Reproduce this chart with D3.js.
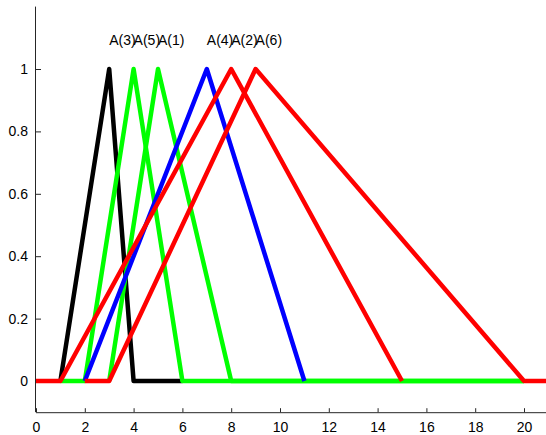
<!DOCTYPE html>
<html>
<head>
<meta charset="utf-8">
<script src="https://cdn.jsdelivr.net/npm/d3@7"></script>
<style>
  body { margin: 0; background: #fff; }
  svg { display: block; font-family: "Liberation Sans", Arial, sans-serif; }
  .axis path, .axis line { stroke: #262626; }
  .axis text { font-size: 14px; fill: #000; }
</style>
</head>
<body>
<div id="chart"></div>
<script>
// triangular membership functions, each with the flat zero parts as plotted
const names = ["A(3)", "A(5)", "A(1)", "A(4)", "A(2)", "A(6)"];
const colors = ["#000000", "#00ff00", "#00ff00", "#0000ff", "#ff0000", "#ff0000"];
const peaks = [3, 4, 5, 7, 8, 9];
const seriesX = [
  [1, 3, 4, 6],
  [1, 2, 4, 6, 20],
  [3, 5, 8, 20],
  [2, 7, 11],
  [0, 1, 8, 15],
  [2, 3, 9, 20, 21]
];
const seriesY = [
  [0, 1, 0, 0],
  [0, 0, 1, 0, 0],
  [0, 1, 0, 0],
  [0, 1, 0],
  [0, 0, 1, 0],
  [0, 0, 1, 0, 0]
];
const xTicks = [0, 2, 4, 6, 8, 10, 12, 14, 16, 18, 20];
const yTicks = [0, 0.2, 0.4, 0.6, 0.8, 1];

const WIDTH = 546, HEIGHT = 435;
const svg = d3.select("#chart").append("svg")
  .attr("width", WIDTH).attr("height", HEIGHT);

const x = d3.scaleLinear().domain([0, 21]).range([36, 548.4]);
const y = d3.scaleLinear().domain([-0.1, 1.2]).range([412.2, 6.6]);

// axes (ticks point inward)
svg.append("g").attr("class", "axis")
  .attr("transform", `translate(0,${y(-0.1)})`)
  .call(d3.axisBottom(x).tickValues(xTicks).tickSizeInner(-4).tickSizeOuter(0).tickPadding(10))
  .call(g => g.select(".domain").attr("d", `M${x(0)},0.5H${WIDTH}`));

svg.append("g").attr("class", "axis")
  .attr("transform", `translate(${x(0)},0)`)
  .call(d3.axisLeft(y).tickValues(yTicks).tickFormat(d3.format("")).tickSizeInner(-5).tickSizeOuter(0).tickPadding(8))
  .call(g => g.select(".domain").attr("d", `M-0.5,${y(1.2)}V${y(-0.1)}`));

const line = d3.line().x(d => x(d[0])).y(d => y(d[1]));

names.forEach((n, i) => {
  const pts = seriesX[i].map((v, j) => [v, seriesY[i][j]]);
  svg.append("path")
    .datum(pts)
    .attr("d", line)
    .attr("fill", "none")
    .attr("stroke", colors[i])
    .attr("stroke-width", 4.5)
    .attr("stroke-linejoin", "round");
});

// labels start at each peak
svg.append("g").selectAll("text")
  .data(names)
  .join("text")
  .attr("x", (d, i) => x(peaks[i]))
  .attr("y", y(1.1) + 7)
  .attr("font-size", 14)
  .text(d => d);
</script>
</body>
</html>
